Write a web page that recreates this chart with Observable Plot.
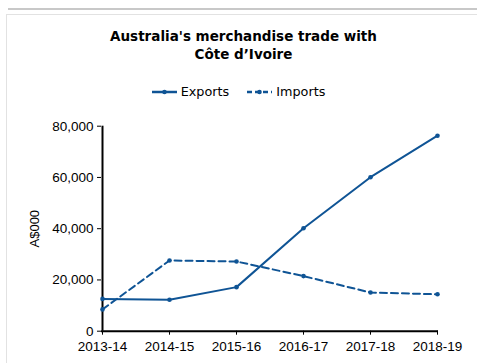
<!DOCTYPE html>
<html><head><meta charset="utf-8">
<script src="https://cdn.jsdelivr.net/npm/d3@7"></script>
<script src="https://cdn.jsdelivr.net/npm/@observablehq/plot@0.6"></script>
<style>
html,body{margin:0;padding:0;background:#fff;width:477px;height:363px;overflow:hidden;position:relative}
#topline{position:absolute;left:8px;top:8px;width:469px;height:2px;background:#c8c8c8}
#frame{position:absolute;left:6px;top:14px;width:480px;height:360px;border-left:1.5px solid #e2e2e2;border-top:1.5px solid #e2e2e2}
#title{position:absolute;left:0;width:477px;top:27px;text-align:center;font:bold 13.5px Tahoma,"DejaVu Sans",sans-serif;line-height:18px;color:#000;padding-left:10px;box-sizing:border-box}
#legend{position:absolute;top:84px;left:0;width:477px;display:flex;justify-content:center;font:12.8px Tahoma,"DejaVu Sans",sans-serif;color:#000;padding-left:0;box-sizing:border-box}
#legend span.item{display:flex;align-items:center;margin:0 9px}
#legend svg{margin-right:4px}
#chart{position:absolute;left:0;top:115px}
</style></head>
<body>
<div id="topline"></div><div id="frame"></div>
<div id="title">Australia's merchandise trade with<br>Côte d’Ivoire</div>
<div id="legend"></div>
<div id="chart"></div>
<script>
const years = ["2013-14","2014-15","2015-16","2016-17","2017-18","2018-19"];
const exportsVals = [12600, 12300, 17200, 40200, 60100, 76300];
const importsVals = [8500, 27600, 27200, 21500, 15100, 14400];
const seriesNames = ["Exports","Imports"];
const yTicks = [0, 20000, 40000, 60000, 80000];
const color = "#0f5495";

const rows = [];
years.forEach((y,i)=>{
  rows.push({year:y, series:"Exports", value:exportsVals[i]});
  rows.push({year:y, series:"Imports", value:importsVals[i]});
});

// legend
const leg = document.getElementById("legend");
seriesNames.forEach(name=>{
  const dashed = name==="Imports";
  const item = document.createElement("span");
  item.className="item";
  item.innerHTML = `<svg width="25" height="8"><line x1="0" x2="25" y1="4" y2="4" stroke="${color}" stroke-width="2.5" ${dashed?'stroke-dasharray="5,3"':''}/><circle cx="12.5" cy="4" r="2.3" fill="${color}"/></svg><span>${name}</span>`;
  leg.appendChild(item);
});

const chart = Plot.plot({
  width: 477,
  height: 240,
  marginLeft: 101,
  marginRight: 39,
  marginTop: 10.7,
  marginBottom: 24.3,
  style: {fontFamily: "'Liberation Sans', Arial, sans-serif", fontSize: "13.5px", color: "#000", background: "transparent"},
  x: {type: "point", domain: years, padding: 0, label: null},
  y: {domain: [0, 80000], ticks: yTicks, label: null},
  marks: [
    Plot.axisY({ticks: yTicks, tickFormat: d3.format(","), tickSize: 4, tickPadding: 4, label: null, fontSize: 13.5}),
    Plot.axisY({ticks: [], label: "A$000", labelAnchor: "center", labelArrow: "none", labelOffset: 72, fontSize: 13}),
    Plot.axisX({tickSize: 4, tickPadding: 6, fontSize: 13.5}),
    Plot.ruleY([0], {stroke: "#000", strokeWidth: 2}),
    Plot.ruleX([years[0]], {stroke: "#000", strokeWidth: 2}),
    Plot.line(rows.filter(d=>d.series==="Exports"), {x:"year", y:"value", stroke: color, strokeWidth: 2}),
    Plot.line(rows.filter(d=>d.series==="Imports"), {x:"year", y:"value", stroke: color, strokeWidth: 2, strokeDasharray: "7,4"}),
    Plot.dot(rows, {x:"year", y:"value", fill: color, r: 2.3})
  ]
});
document.getElementById("chart").appendChild(chart);
</script>
</body></html>
